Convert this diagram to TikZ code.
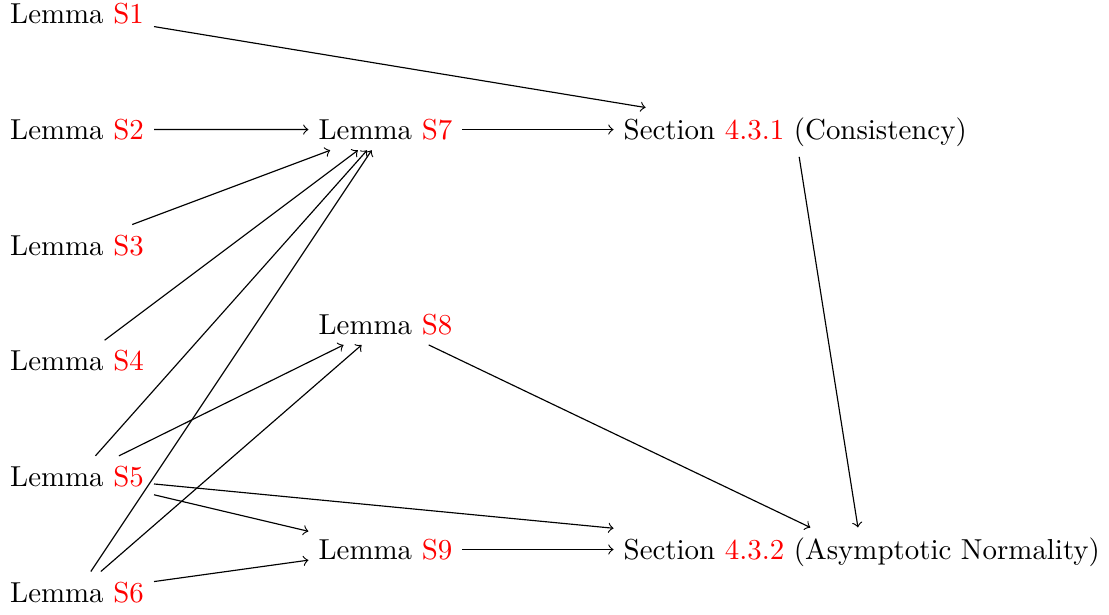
\documentclass[tikz,border=0pt]{standalone}
\usepackage{tikz}

\begin{document}
\begin{tikzpicture}[lem/.style={anchor=base west}, imp/.style={->}]
    \useasboundingbox (0,-0.146) rectangle (13.49,7.324);

    \foreach \i in {1,...,6}
      \node[lem] (s\i) at (0,{(6-\i)*1.407}) {Lemma \textcolor{red}{S\i}};

    \node[lem] (s7) at (3.752,5.628) {Lemma \textcolor{red}{S7}};
    \node[lem] (s8) at (3.752,3.26) {Lemma \textcolor{red}{S8}};
    \node[lem] (s9) at (3.752,0.52) {Lemma \textcolor{red}{S9}};

    \node[lem] (sec1) at (7.463,5.628) {Section \textcolor{red}{4.3.1} (Consistency)};
    \node[lem] (sec2) at (7.463,0.52) {Section \textcolor{red}{4.3.2} (Asymptotic Normality)};

    %\foreach \i in {1,...,9} \fill (s\i) circle (1pt);

    \draw[imp] (s1) -- (sec1);
    \foreach \i in {2,...,6} \draw[imp] (s\i) -- (s7);
    \draw[imp] (s7) -- (s7 -| sec1.west);
    \draw[imp] (s5) -- (s8);
    \draw[imp] (s6) -- (s8);
    \draw[imp] (s5) -- (s9);
    \draw[imp] (s6) -- (s9);
    \draw[imp] (s5) -- (sec2);
    \draw[imp] (s8) -- (sec2);
    \draw[imp] (s9) -- (s9 -| sec2.west);
    \draw[imp] (sec1) -- (sec2);
\end{tikzpicture}
\end{document}
